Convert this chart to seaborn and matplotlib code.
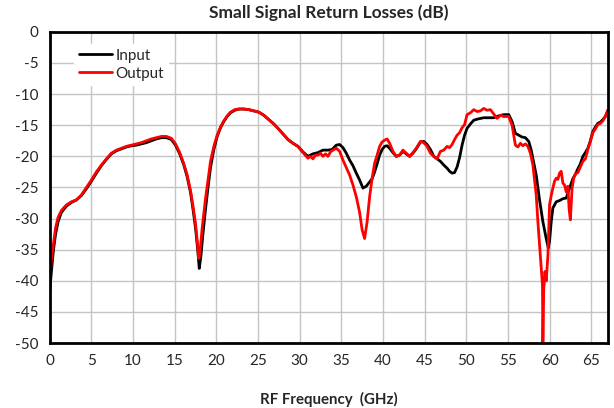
# IMPORTS

import pandas as pd
import seaborn as sns
import matplotlib.pyplot as plt

sns.set_theme(style="whitegrid")
plt.rcParams["font.family"] = ["Lato", "DejaVu Sans"]
plt.rcParams["axes.unicode_minus"] = False  # plain hyphen like the reference

# DATA

freq_in = [
    0.0, 0.2, 0.45, 0.7, 1.0, 1.4, 2.0, 2.6, 3.2, 3.8,
    4.4, 5.0, 5.6, 6.2, 6.8, 7.4, 8.0, 8.6, 9.2, 9.8,
    10.4, 11.0, 11.6, 12.2, 12.8, 13.4, 14.0, 14.6, 15.1, 15.6,
    16.1, 16.5, 16.9, 17.2, 17.5, 17.75, 17.95, 18.15, 18.35, 18.7,
    19.0, 19.3, 19.7, 20.1, 20.5, 20.9, 21.3, 21.7, 22.2, 22.7,
    23.3, 23.9, 24.5, 25.1, 25.7, 26.3, 26.9, 27.4, 28.0, 28.6,
    29.2, 29.8, 30.4, 31.0, 31.6, 32.2, 32.8, 33.4, 33.9, 34.4,
    34.8, 35.2, 35.6, 36.0, 36.4, 36.8, 37.2, 37.6, 38.0, 38.4,
    38.7, 39.0, 39.3, 39.6, 39.9, 40.2, 40.5, 40.8, 41.2, 41.6,
    42.0, 42.4, 42.8, 43.2, 43.6, 44.0, 44.5, 44.9, 45.3, 45.7,
    46.1, 46.5, 46.9, 47.3, 47.7, 48.0, 48.3, 48.6, 48.9, 49.2,
    49.5, 49.8, 50.1, 50.5, 50.9, 51.4, 52.1, 52.7, 53.3, 53.9,
    54.5, 55.1, 55.5, 55.9, 56.3, 56.7, 57.1, 57.5, 57.8, 58.1,
    58.4, 58.8, 59.2, 59.6, 59.85, 60.0, 60.2, 60.4, 60.8, 61.2,
    61.6, 62.0, 62.4, 62.8, 63.1, 63.4, 63.7, 64.0, 64.3, 64.6,
    64.9, 65.2, 65.5, 65.8, 66.1, 66.4, 66.7, 67.0,
]
input_db = [
    -41.7, -38.5, -35.0, -32.5, -30.5, -29.0, -28.0, -27.4, -27.0, -26.3,
    -25.2, -24.0, -22.7, -21.5, -20.5, -19.6, -19.1, -18.8, -18.5, -18.3,
    -18.2, -18.0, -17.8, -17.5, -17.2, -17.0, -17.0, -17.3, -18.2, -19.6,
    -21.4, -23.3, -25.8, -28.5, -31.5, -34.8, -38.0, -36.0, -33.0, -28.5,
    -25.0, -21.8, -18.9, -16.8, -15.4, -14.4, -13.6, -13.0, -12.6, -12.4,
    -12.4, -12.5, -12.7, -12.9, -13.4, -14.1, -14.8, -15.5, -16.4, -17.3,
    -17.9, -18.4, -19.3, -20.0, -19.6, -19.4, -19.0, -19.0, -18.9, -18.2,
    -18.1, -18.6, -19.5, -20.6, -21.5, -22.7, -23.8, -25.1, -24.8, -24.1,
    -23.6, -22.5, -21.2, -19.8, -18.9, -18.4, -18.3, -18.7, -19.4, -20.0,
    -19.8, -19.2, -19.6, -20.0, -19.5, -18.8, -17.7, -17.6, -18.1, -18.9,
    -20.0, -20.4, -20.8, -21.4, -21.9, -22.4, -22.7, -22.6, -21.7, -20.2,
    -18.2, -16.6, -15.5, -14.8, -14.2, -14.0, -13.8, -13.8, -13.8, -13.5,
    -13.3, -13.3, -14.4, -16.3, -16.6, -16.9, -17.0, -17.6, -19.0, -21.0,
    -23.0, -27.0, -30.5, -33.2, -34.7, -33.6, -30.5, -28.3, -27.3, -27.1,
    -26.8, -26.7, -25.1, -23.6, -22.9, -22.0, -21.2, -20.0, -19.4, -18.7,
    -17.5, -16.0, -15.3, -14.7, -14.5, -14.1, -13.6, -12.6,
]

freq_out = [
    0.0, 0.2, 0.45, 0.7, 1.0, 1.4, 2.0, 2.6, 3.2, 3.8,
    4.4, 5.0, 5.6, 6.2, 6.8, 7.4, 8.0, 8.6, 9.2, 9.8,
    10.4, 11.0, 11.6, 12.2, 12.8, 13.4, 14.0, 14.6, 15.1, 15.6,
    16.1, 16.5, 16.9, 17.2, 17.5, 17.7, 17.9, 18.1, 18.3, 18.7,
    19.0, 19.3, 19.7, 20.1, 20.5, 20.9, 21.3, 21.7, 22.2, 22.7,
    23.3, 23.9, 24.5, 25.1, 25.7, 26.3, 26.9, 27.4, 28.0, 28.6,
    29.2, 29.8, 30.4, 31.0, 31.3, 31.6, 31.9, 32.2, 32.5, 32.8,
    33.1, 33.4, 33.7, 34.0, 34.4, 34.8, 35.2, 35.6, 36.0, 36.4,
    36.8, 37.2, 37.5, 37.8, 38.1, 38.4, 38.7, 39.0, 39.3, 39.6,
    39.9, 40.2, 40.5, 40.8, 41.2, 41.6, 42.0, 42.4, 42.8, 43.2,
    43.6, 44.0, 44.5, 44.9, 45.3, 45.7, 46.1, 46.5, 46.9, 47.3,
    47.7, 48.0, 48.3, 48.6, 48.9, 49.2, 49.5, 49.8, 50.1, 50.5,
    50.9, 51.3, 51.7, 52.1, 52.5, 52.9, 53.3, 53.7, 54.1, 54.5,
    55.1, 55.5, 55.9, 56.2, 56.5, 56.8, 57.1, 57.4, 57.7, 58.0,
    58.2, 58.4, 58.6, 58.8, 59.0, 59.15, 59.2, 59.3, 59.45, 59.6,
    59.8, 60.0, 60.2, 60.4, 60.6, 60.8, 61.0, 61.2, 61.4, 61.6,
    61.8, 62.0, 62.2, 62.35, 62.5, 62.7, 62.9, 63.1, 63.4, 63.7,
    64.0, 64.3, 64.6, 64.9, 65.2, 65.5, 65.8, 66.1, 66.4, 66.7, 67.0,
]
output_db = [
    -39.9, -36.5, -34.0, -31.5, -29.8, -28.7, -27.8, -27.3, -27.0, -26.2,
    -25.0, -23.8, -22.5, -21.4, -20.4, -19.5, -19.0, -18.7, -18.4, -18.2,
    -18.0, -17.8, -17.5, -17.2, -17.0, -16.8, -16.8, -17.1, -18.0, -19.4,
    -21.2, -23.0, -25.5, -28.0, -30.8, -33.5, -36.4, -34.5, -31.5, -26.8,
    -23.8, -20.8, -18.4, -16.6, -15.3, -14.3, -13.5, -12.9, -12.5, -12.4,
    -12.4, -12.5, -12.7, -12.9, -13.4, -14.1, -14.8, -15.5, -16.4, -17.3,
    -17.9, -18.4, -19.4, -20.3, -20.0, -20.4, -19.8, -19.8, -19.5, -20.0,
    -19.6, -20.0, -19.3, -19.0, -18.7, -19.2, -20.6, -21.8, -23.0, -24.6,
    -26.5, -29.0, -31.8, -33.2, -30.5, -26.5, -23.5, -21.1, -19.8, -18.4,
    -17.7, -17.4, -17.2, -17.9, -19.2, -20.0, -19.8, -19.0, -19.5, -20.0,
    -19.4, -18.7, -17.6, -17.8, -18.4, -19.5, -20.0, -20.4, -19.2, -19.0,
    -18.4, -18.6, -18.1, -17.3, -16.6, -16.2, -15.4, -14.9, -13.3, -13.0,
    -12.5, -12.8, -12.7, -12.3, -12.6, -12.5, -13.2, -13.9, -13.4, -13.6,
    -13.6, -15.0, -18.2, -18.5, -17.9, -18.3, -18.0, -18.4, -19.5, -21.4,
    -23.8, -26.2, -30.5, -34.2, -37.8, -40.7, -50.5, -41.5, -38.5, -40.0,
    -36.0, -27.8, -26.3, -25.1, -24.0, -23.5, -23.7, -22.7, -22.4, -24.3,
    -24.6, -25.7, -24.8, -28.5, -30.2, -25.2, -23.5, -22.8, -22.6, -21.7,
    -20.8, -20.4, -18.9, -17.6, -16.2, -15.6, -14.9, -14.7, -14.3, -13.6, -12.6,
]

df = pd.concat(
    [
        pd.DataFrame({"freq": freq_in, "db": input_db, "port": "Input"}),
        pd.DataFrame({"freq": freq_out, "db": output_db, "port": "Output"}),
    ]
)

# VISUALIZATION

fig, ax = plt.subplots(figsize=(6.14, 4.08), dpi=100)
fig.subplots_adjust(left=0.081, right=0.99, bottom=0.159, top=0.922)

sns.lineplot(
    data=df, x="freq", y="db", hue="port", palette={"Input": "black", "Output": "red"},
    linewidth=2, ax=ax, estimator=None, sort=True,
)

ax.set_xlim(0, 67)
ax.set_ylim(-50, 0)
ax.set_xticks(range(0, 66, 5))
ax.set_yticks(range(-50, 1, 5))
ax.tick_params(labelsize=11, length=0, pad=8)
ax.grid(True, color="#c4c4c4", linewidth=1)
for s in ax.spines.values():
    s.set_color("black")
    s.set_linewidth(2)

# Graph details
ax.set_title("Small Signal Return Losses (dB)", fontsize=12.5, fontweight="bold", pad=10)
ax.set_xlabel("RF Frequency  (GHz)", fontsize=10.8, fontweight="bold", labelpad=17)
ax.set_ylabel("")
leg = ax.legend(
    loc="upper left", bbox_to_anchor=(0.03, 0.985), frameon=True, fontsize=11,
    handlelength=2.2, handletextpad=0.2, labelspacing=0.25, borderpad=0.3,
)
leg.get_frame().set_edgecolor("white")
leg.get_frame().set_facecolor("white")
leg.get_frame().set_alpha(1)

plt.savefig("out.png", dpi=100)
